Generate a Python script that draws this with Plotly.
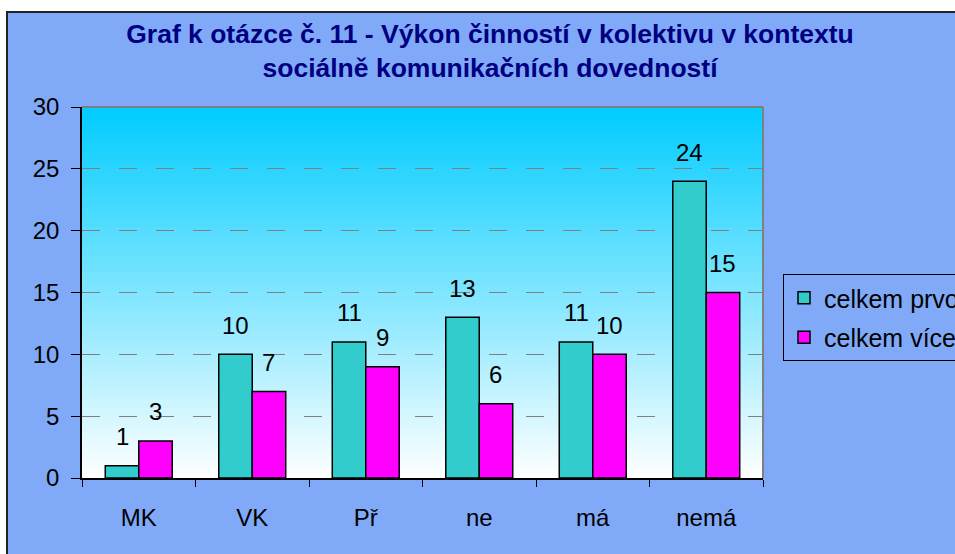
import plotly.graph_objects as go

categories = ["MK", "VK", "Př", "ne", "má", "nemá"]
series_names = ["celkem prvo", "celkem více"]
values_prvo = [1, 10, 11, 13, 11, 24]
values_vice = [3, 7, 9, 6, 10, 15]
y_ticks = [0, 5, 10, 15, 20, 25, 30]

W, H = 955, 554
L, R, T, B = 82, 955 - 763, 107, 554 - 478
pw, ph = W - L - R, H - T - B

FONT = "Liberation Sans, Arial, sans-serif"
FS = 24
colors = ["#33CCCC", "#FF00FF"]

fig = go.Figure()
for name, vals, col in zip(series_names, [values_prvo, values_vice], colors):
    fig.add_trace(go.Bar(
        x=categories, y=vals, name=name,
        marker=dict(color=col, line=dict(color="black", width=1.5)),
        legendgroup=name,
    ))

def px2paper_x(px):
    return (px - L) / pw
def px2paper_y(py):
    return (H - B - py) / ph

shapes = []
shapes.append(dict(type="rect", xref="paper", yref="paper",
                   x0=px2paper_x(7), x1=px2paper_x(990),
                   y0=px2paper_y(590), y1=px2paper_y(12),
                   fillcolor="#80AAF8", line=dict(color="#222222", width=2),
                   layer="below"))
N = 90
top = (0, 204, 255)
bot = (255, 255, 255)
for i in range(N):
    t = (i + 0.5) / N
    c = tuple(int(round(top[k] + (bot[k] - top[k]) * t)) for k in range(3))
    shapes.append(dict(type="rect", xref="x domain", yref="y domain",
                       x0=0, x1=1, y0=1 - (i + 1) / N - 0.002, y1=1 - i / N,
                       fillcolor="rgb(%d,%d,%d)" % c, line=dict(width=0),
                       layer="below"))
shapes.append(dict(type="line", xref="x domain", yref="y domain",
                   x0=0, x1=1, y0=1, y1=1, line=dict(color="#808080", width=2)))
shapes.append(dict(type="line", xref="x domain", yref="y domain",
                   x0=1, x1=1, y0=0, y1=1, line=dict(color="#808080", width=2)))

annotations = []
bar_half = pw / len(categories) * (1 - 0.41) / 4
for vals, sh in [(values_prvo, -bar_half), (values_vice, bar_half)]:
    for c, v in zip(categories, vals):
        annotations.append(dict(x=c, y=v, xref="x", yref="y", text=str(v),
                                showarrow=False, xshift=sh, yshift=29,
                                yanchor="middle",
                                font=dict(family=FONT, size=FS, color="black")))

fig.update_layout(
    width=W, height=H,
    margin=dict(l=L, r=R, t=T, b=B, autoexpand=False),
    paper_bgcolor="white",
    plot_bgcolor="rgba(0,0,0,0)",
    barmode="group", bargap=0.41, bargroupgap=0,
    title=dict(text="<b>Graf k otázce č. 11 - Výkon činností v kolektivu v kontextu<br>sociálně komunikačních dovedností</b>",
               x=490 / W, xanchor="center", xref="container",
               y=1 - 43 / H, yanchor="middle", yref="container",
               font=dict(family=FONT, size=26.5, color="#000080")),
    font=dict(family=FONT, size=FS, color="black"),
    showlegend=True,
    legend=dict(x=px2paper_x(783), y=px2paper_y(274), xanchor="left", yanchor="top",
                bgcolor="rgba(0,0,0,0)", bordercolor="black", borderwidth=1,
                font=dict(family=FONT, size=25, color="black"),
                tracegroupgap=4, itemwidth=30, entrywidth=200, entrywidthmode="pixels"),
    xaxis=dict(type="category", showline=True, linecolor="black", linewidth=1.5,
               ticks="outside", tickson="boundaries", ticklen=7, tickcolor="black",
               tickfont=dict(family=FONT, size=FS, color="black"),
               ticklabelstandoff=17, showgrid=False, zeroline=False, fixedrange=True),
    yaxis=dict(range=[0, 30], tickvals=y_ticks, showline=True, linecolor="black",
               linewidth=1.5, ticks="outside", ticklen=9, tickcolor="black",
               tickfont=dict(family=FONT, size=FS, color="black"),
               ticklabelstandoff=7,
               showgrid=True, gridcolor="#808080", gridwidth=1, griddash="18px,19px",
               zeroline=False, fixedrange=True),
    shapes=shapes,
    annotations=annotations,
)

fig.write_html("out.html", config={"displayModeBar": False},
               post_script="document.body.style.margin='0';")
